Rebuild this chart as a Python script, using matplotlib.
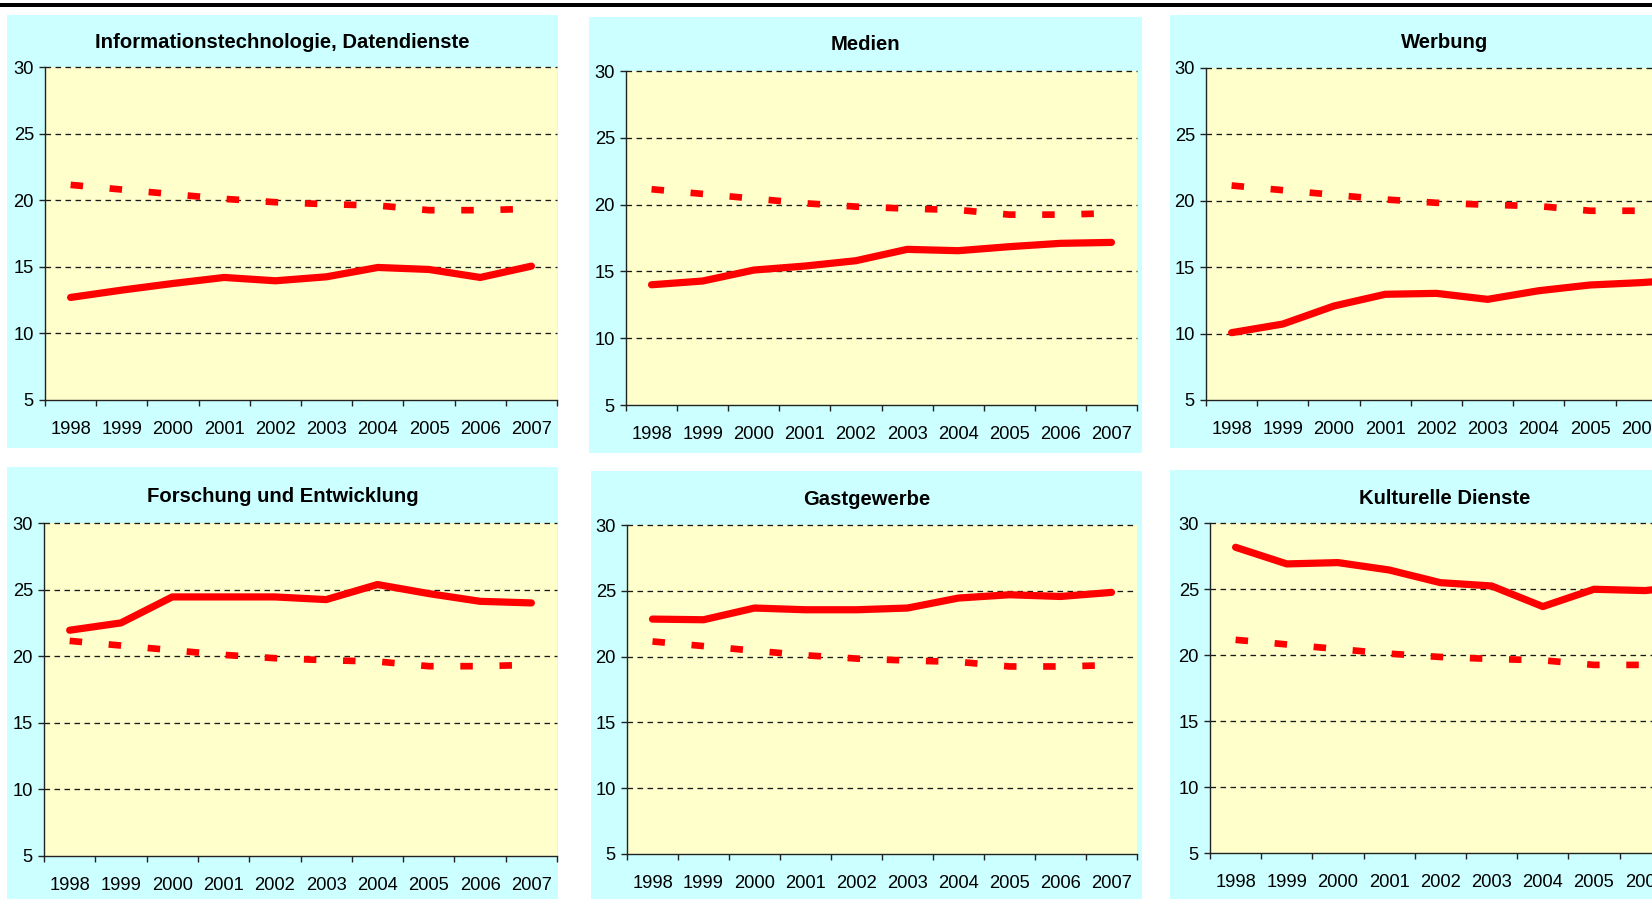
import matplotlib
matplotlib.use('Agg')
import matplotlib.pyplot as plt
from matplotlib.patches import Rectangle

plt.rcParams['font.family'] = ['Liberation Sans', 'DejaVu Sans']
plt.rcParams['lines.scale_dashes'] = False

years = ['1998', '1999', '2000', '2001', '2002', '2003', '2004', '2005', '2006', '2007']
y_ticks = [5, 10, 15, 20, 25, 30]

# common reference series (dotted)
average = [21.15, 20.8, 20.45, 20.1, 19.85, 19.7, 19.6, 19.25, 19.25, 19.35]

titles = ['Informationstechnologie, Datendienste', 'Medien', 'Werbung',
          'Forschung und Entwicklung', 'Gastgewerbe', 'Kulturelle Dienste']

it_daten = [12.7, 13.25, 13.75, 14.2, 13.95, 14.25, 14.95, 14.8, 14.2, 15.05]
medien = [14.0, 14.28, 15.1, 15.4, 15.8, 16.65, 16.55, 16.85, 17.1, 17.17]
werbung = [10.07, 10.72, 12.08, 12.96, 13.03, 12.58, 13.23, 13.66, 13.84, 14.1]
forschung = [21.95, 22.5, 24.45, 24.45, 24.45, 24.25, 25.38, 24.7, 24.12, 24.0]
gastgewerbe = [22.85, 22.8, 23.69, 23.56, 23.56, 23.69, 24.45, 24.7, 24.57, 24.88]
kultur = [28.16, 26.9, 27.0, 26.44, 25.48, 25.23, 23.67, 24.98, 24.88, 25.3]

series = [it_daten, medien, werbung, forschung, gastgewerbe, kultur]

W, H = 1652, 899
fig = plt.figure(figsize=(W / 100, H / 100), dpi=100)
fig.patch.set_facecolor('white')

def fx(x):
    return x / W

def fy(y):
    return 1 - y / H

# top black rule
fig.patches.append(Rectangle((0, fy(6.5)), 1, 3.5 / H, transform=fig.transFigure,
                             facecolor='black', edgecolor='none', zorder=5))

# (cyan box x0, y0, x1, y1), (plot x0, y0, x1, y1), title y
layout = [
    ((7, 15, 558, 448), (45, 67, 557, 400), 43),
    ((589, 17, 1142, 453), (626, 71, 1137, 405), 45),
    ((1170, 15, 1720, 448), (1206, 68, 1718, 400), 43),
    ((7, 467, 558, 899), (44, 523, 557, 856), 496),
    ((591, 471, 1142, 899), (627, 525, 1137, 854), 500),
    ((1170, 470, 1720, 899), (1210, 523, 1722, 853), 498),
]

cyan = '#CCFFFF'
yellow = '#FFFFCC'
red = '#FF0000'

for title, vals, (box, plot, ty) in zip(titles, series, layout):
    bx0, by0, bx1, by1 = box
    fig.patches.append(Rectangle((fx(bx0), fy(by1)), (bx1 - bx0) / W, (by1 - by0) / H,
                                 transform=fig.transFigure, facecolor=cyan,
                                 edgecolor='none', zorder=-1))
    px0, py0, px1, py1 = plot
    ax = fig.add_axes([fx(px0), fy(py1), (px1 - px0) / W, (py1 - py0) / H])
    ax.set_zorder(2)
    ax.set_facecolor(yellow)
    ax.set_xlim(0, len(years))
    ax.set_ylim(y_ticks[0], y_ticks[-1])
    for s in ['top', 'right']:
        ax.spines[s].set_visible(False)
    for s in ['left', 'bottom']:
        ax.spines[s].set_color('#222222')
        ax.spines[s].set_linewidth(1.0)

    for yv in y_ticks[1:]:
        ax.axhline(yv, color='#1a1a1a', lw=0.95, linestyle=(0, (4.0, 3.2)),
                   zorder=1, clip_on=False)

    xs = [i + 0.5 for i in range(len(years))]
    ax.plot(xs, average, color=red, lw=4.8, linestyle=(0, (9.0, 19.2)),
            dash_capstyle='butt', zorder=3)
    ax.plot(xs, vals, color=red, lw=5.2, solid_capstyle='round',
            solid_joinstyle='round', zorder=4)

    ax.set_xticks(range(len(years) + 1))
    ax.set_xticklabels([])
    ax.set_xticks(xs, minor=True)
    ax.set_xticklabels(years, minor=True, fontsize=13.2)
    ax.tick_params(axis='x', which='major', length=4, width=1.0, color='#222222',
                   direction='out')
    ax.tick_params(axis='x', which='minor', length=0, pad=15.0)
    ax.set_yticks(y_ticks)
    ax.set_yticklabels([str(v) for v in y_ticks], fontsize=13.2)
    ax.tick_params(axis='y', length=4, width=1.0, color='#222222', pad=4)

    cx = (bx0 + bx1) / 2
    fig.text(fx(cx), fy(ty), title, ha='center', va='center', fontsize=14.6,
             fontweight='bold', color='black', zorder=3)

fig.savefig('out.png', dpi=100)
